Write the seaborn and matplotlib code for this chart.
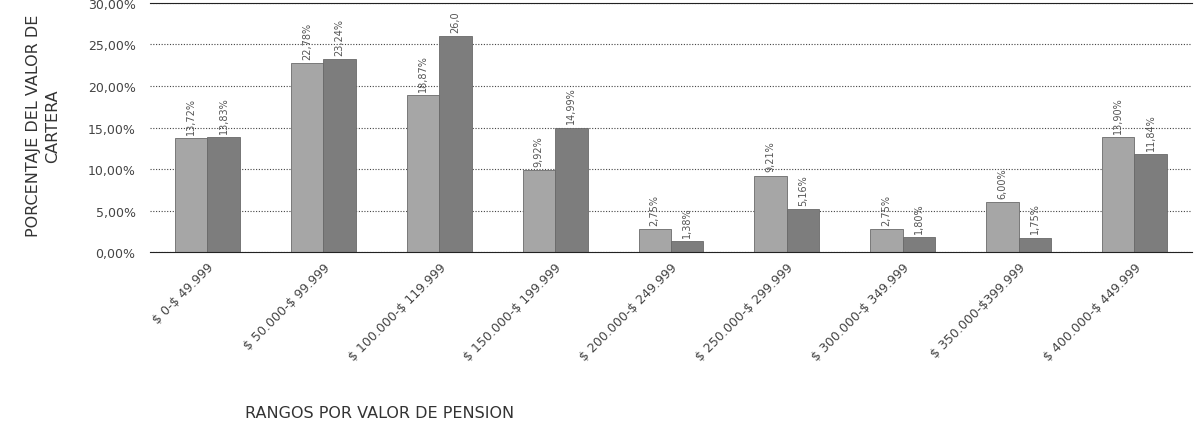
import pandas as pd
import numpy as np
import seaborn as sns
import matplotlib.pyplot as plt
from matplotlib.ticker import FuncFormatter

rangos = ["$ 0-$ 49.999", "$ 50.000-$ 99.999", "$ 100.000-$ 119.999",
          "$ 150.000-$ 199.999", "$ 200.000-$ 249.999", "$ 250.000-$ 299.999",
          "$ 300.000-$ 349.999", "$ 350.000-$399.999", "$ 400.000-$ 449.999"]
serie1 = [13.72, 22.78, 18.87, 9.92, 2.75, 9.21, 2.75, 6.00, 13.90]
serie2 = [13.83, 23.24, 26.02, 14.99, 1.38, 5.16, 1.80, 1.75, 11.84]
etiq1 = ["13,72%", "22,78%", "18,87%", "9,92%", "2,75%", "9,21%", "2,75%", "6,00%", "13,90%"]
etiq2 = ["13,83%", "23,24%", "26,0", "14,99%", "1,38%", "5,16%", "1,80%", "1,75%", "11,84%"]

df = pd.DataFrame({
    "rango": rangos * 2,
    "valor": serie1 + serie2,
    "serie": ["Serie 1"] * len(rangos) + ["Serie 2"] * len(rangos),
})

sns.set_style("white")
fig = plt.figure(figsize=(11.96, 4.35), dpi=100)
ax = fig.add_axes([0.125, 0.418, 0.872, 0.573])

sns.barplot(data=df, x="rango", y="valor", hue="serie", palette=["#a6a6a6", "#7d7d7d"],
            width=0.56, saturation=1, legend=False, ax=ax, edgecolor="#6a6a6a", linewidth=0.6)

# etiquetas de datos
for cont, labs in zip(ax.containers, [etiq1, etiq2]):
    ax.bar_label(cont, labels=labs, rotation=90, fontsize=7, color="#555555", padding=3)

ax.set_ylim(0, 30)
ax.set_yticks(np.arange(0, 31, 5))
ax.yaxis.set_major_formatter(FuncFormatter(lambda v, p: f"{v:.2f}%".replace(".", ",")))
ax.grid(axis="y", linestyle=(0, (1, 1.5)), color="#444444", linewidth=0.8)
ax.set_axisbelow(True)
for s in ["left", "right"]:
    ax.spines[s].set_visible(False)
ax.spines["top"].set_color("#222222")
ax.spines["bottom"].set_color("#222222")
ax.tick_params(axis="y", labelsize=9, labelcolor="#444444", length=0, pad=10)
ax.tick_params(axis="x", length=0, pad=6)
ax.set_xticks(range(len(rangos)))
ax.set_xticklabels([r.replace("$", r"\$") for r in rangos], rotation=45, ha="right",
                   rotation_mode="anchor", fontsize=9, color="#444444")
ax.set_xlabel("")
ax.set_ylabel("")

fig.text(0.036, 0.71, "PORCENTAJE DEL VALOR DE\nCARTERA", rotation=90, ha="center", va="center",
         fontsize=11.5, color="#333333", linespacing=1.4)
fig.text(0.317, 0.05, "RANGOS POR VALOR DE PENSION", ha="center", va="center",
         fontsize=11.5, color="#333333")

plt.savefig("out.png", dpi=100)
